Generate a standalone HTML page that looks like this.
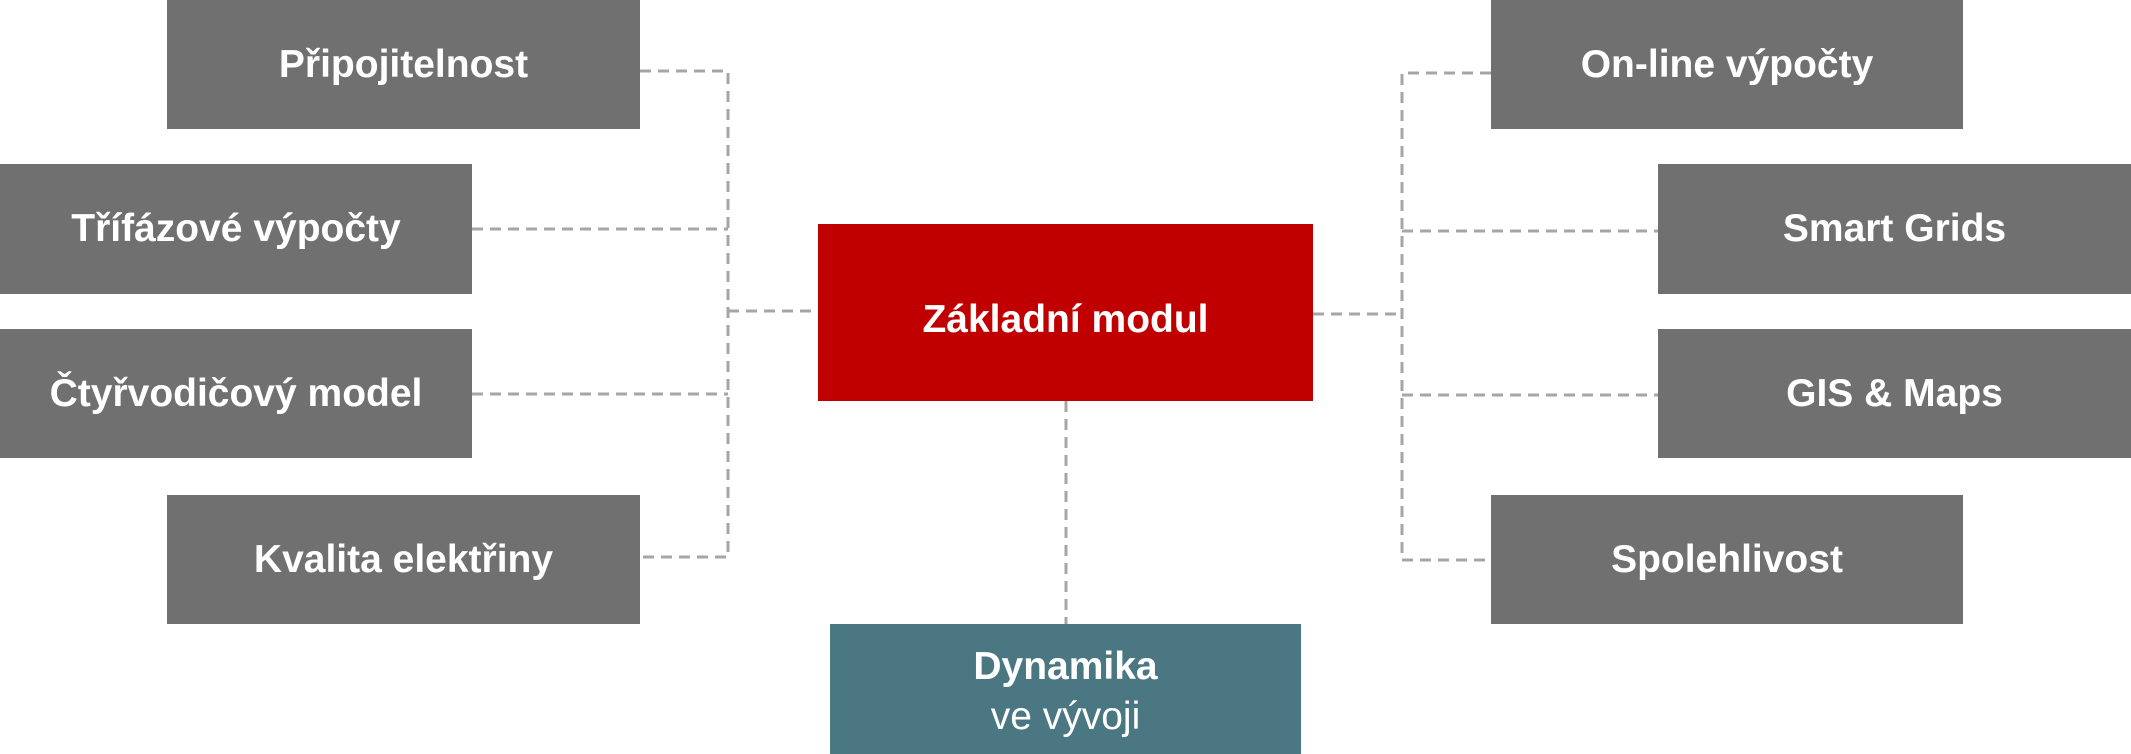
<!DOCTYPE html>
<html><head><meta charset="utf-8"><style>
html,body{margin:0;padding:0;background:#fff;}
body{width:2131px;height:754px;position:relative;overflow:hidden;font-family:"Liberation Sans",Arial,sans-serif;}
.b{position:absolute;background:#707070;color:#fff;font-weight:bold;font-size:39px;display:flex;align-items:center;justify-content:center;}
svg{position:absolute;left:0;top:0;}
</style></head><body>
<svg width="2131" height="754">
<g stroke="#a6a6a6" stroke-width="3" stroke-dasharray="11,7" fill="none">
<path d="M640 71 H728 V557 H640"/>
<path d="M472 229 H728"/>
<path d="M472 394 H728"/>
<path d="M728 311 H818"/>
<path d="M1491 73 H1402 V560 H1491"/>
<path d="M1402 231 H1658"/>
<path d="M1402 395 H1658"/>
<path d="M1313 314 H1402"/>
<path d="M1066 401 V624"/>
</g>
</svg>
<div class="b" style="left:167px;top:0;width:473px;height:129px;">Připojitelnost</div>
<div class="b" style="left:0;top:164px;width:472px;height:130px;">Třífázové výpočty</div>
<div class="b" style="left:0;top:329px;width:472px;height:129px;">Čtyřvodičový model</div>
<div class="b" style="left:167px;top:495px;width:473px;height:129px;">Kvalita elektřiny</div>
<div class="b" style="left:1491px;top:0;width:472px;height:129px;">On-line výpočty</div>
<div class="b" style="left:1658px;top:164px;width:473px;height:130px;">Smart Grids</div>
<div class="b" style="left:1658px;top:329px;width:473px;height:129px;">GIS &amp; Maps</div>
<div class="b" style="left:1491px;top:495px;width:472px;height:129px;">Spolehlivost</div>
<div class="b" style="left:818px;top:224px;width:495px;height:177px;background:#c00000;padding-top:14px;box-sizing:border-box;">Základní modul</div>
<div class="b" style="left:830px;top:624px;width:471px;height:130px;background:#4a7782;flex-direction:column;line-height:50px;padding-top:6px;box-sizing:border-box;">
<div>Dynamika</div><div style="font-weight:normal;">ve vývoji</div></div>
</body></html>
